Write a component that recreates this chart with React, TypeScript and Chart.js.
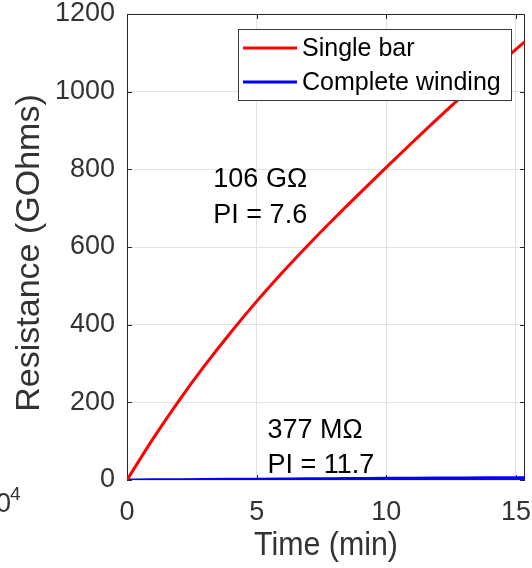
import { useEffect, useRef } from 'react';
import { Chart, registerables } from 'chart.js';

Chart.register(...registerables);

// ---- data ----
const timeMin = [0, 1, 2, 3, 4, 5, 6, 7, 8, 9, 10, 11, 12, 13, 14, 15, 15.35];
const singleBar = [0, 106, 204, 295, 380, 460, 535, 606, 674, 740, 805, 869, 932, 993, 1052, 1109, 1129];
const completeWinding = [0, 0.377, 0.9, 1.35, 1.8, 2.25, 2.7, 3.1, 3.5, 3.95, 4.4, 4.7, 5.0, 5.3, 5.6, 5.9, 6.0];
const xTicks = [0, 5, 10, 15];
const yTicks = [0, 200, 400, 600, 800, 1000, 1200];
const seriesNames = ['Single bar', 'Complete winding'];
const seriesColors = ['#ff0000', '#0000ff'];
const annotationTexts = ['106 GΩ', 'PI = 7.6', '377 MΩ', 'PI = 11.7'];
const annotationX = [3.33, 3.33, 5.42, 5.42];
const annotationY = [755, 662, 107, 17];
const xMax = 15.35;
const yMax = 1200;

const FONT = '"Liberation Sans", Arial, Helvetica, sans-serif';
const AXIS = '#262626';
const TEXT = '#333333';

const overlay = {
  id: 'overlay',
  beforeDatasetsDraw(chart: any) {
    const { ctx, chartArea, scales } = chart;
    const { left, right, top, bottom } = chartArea;
    ctx.save();
    ctx.strokeStyle = AXIS;
    ctx.lineWidth = 1;
    ctx.strokeRect(left + 0.5, top + 0.5, right - left - 1, bottom - top - 1);
    ctx.beginPath();
    xTicks.forEach((v) => {
      const px = Math.round(scales.x.getPixelForValue(v)) + 0.5;
      ctx.moveTo(px, bottom);
      ctx.lineTo(px, bottom - 5);
      ctx.moveTo(px, top);
      ctx.lineTo(px, top + 5);
    });
    yTicks.forEach((v) => {
      const py = Math.round(scales.y.getPixelForValue(v)) + 0.5;
      ctx.moveTo(left, py);
      ctx.lineTo(left + 5, py);
      ctx.moveTo(right, py);
      ctx.lineTo(right - 5, py);
    });
    ctx.stroke();
    ctx.restore();
  },
  afterDatasetsDraw(chart: any) {
    const { ctx, chartArea, scales } = chart;
    const { left, right } = chartArea;
    const top = chartArea.top;
    ctx.save();
    // legend
    const bx0 = right - 287;
    const bx1 = right - 13;
    const by0 = top + 15;
    const by1 = top + 87;
    ctx.fillStyle = '#ffffff';
    ctx.fillRect(bx0, by0, bx1 - bx0, by1 - by0);
    ctx.strokeStyle = '#3a3a3a';
    ctx.lineWidth = 1;
    ctx.strokeRect(bx0 + 0.5, by0 + 0.5, bx1 - bx0 - 1, by1 - by0 - 1);
    seriesNames.forEach((name, i) => {
      const yy = by0 + 19 + i * 34;
      ctx.strokeStyle = seriesColors[i];
      ctx.lineWidth = 3;
      ctx.beginPath();
      ctx.moveTo(bx0 + 5, yy);
      ctx.lineTo(bx0 + 59, yy);
      ctx.stroke();
      ctx.fillStyle = '#000';
      ctx.font = `25px ${FONT}`;
      ctx.textAlign = 'left';
      ctx.textBaseline = 'middle';
      ctx.fillText(name, bx0 + 64, yy + 1);
    });
    // annotations
    ctx.fillStyle = '#000';
    ctx.font = `27px ${FONT}`;
    ctx.textAlign = 'left';
    ctx.textBaseline = 'alphabetic';
    annotationTexts.forEach((t, i) => {
      ctx.fillText(t, scales.x.getPixelForValue(annotationX[i]), scales.y.getPixelForValue(annotationY[i]));
    });
    // axis titles
    ctx.fillStyle = TEXT;
    ctx.save();
    ctx.translate((left + right) / 2, 555);
    ctx.scale(0.92, 1);
    ctx.font = `33px ${FONT}`;
    ctx.textAlign = 'center';
    ctx.fillText('Time (min)', 0, 0);
    ctx.restore();
    ctx.save();
    ctx.translate(39, 253);
    ctx.rotate(-Math.PI / 2);
    ctx.font = `34px ${FONT}`;
    ctx.textAlign = 'center';
    ctx.fillText('Resistance (GOhms)', 0, 0);
    ctx.restore();
    // cut-off exponent from neighbouring panel
    ctx.font = `27px ${FONT}`;
    ctx.textAlign = 'right';
    ctx.fillText('10', 11, 512);
    ctx.font = `19px ${FONT}`;
    ctx.textAlign = 'left';
    ctx.fillText('4', 10, 500);
    ctx.restore();
  },
};

export default function App() {
  const ref = useRef<HTMLCanvasElement>(null);
  useEffect(() => {
    document.body.style.margin = '0';
    const canvas = ref.current;
    if (!canvas) return;
    const chart = new Chart(canvas, {
      type: 'line',
      data: {
        datasets: [
          {
            label: seriesNames[0],
            data: timeMin.map((t, i) => ({ x: t, y: singleBar[i] })),
            borderColor: seriesColors[0],
            borderWidth: 3,
            pointRadius: 0,
            cubicInterpolationMode: 'monotone',
          },
          {
            label: seriesNames[1],
            data: timeMin.map((t, i) => ({ x: t, y: completeWinding[i] })),
            borderColor: seriesColors[1],
            borderWidth: 3,
            pointRadius: 0,
            cubicInterpolationMode: 'monotone',
          },
        ],
      },
      options: {
        animation: false,
        responsive: false,
        layout: { padding: { top: 14, right: 7, left: 0, bottom: 0 } },
        plugins: { legend: { display: false }, tooltip: { enabled: false } },
        scales: {
          x: {
            type: 'linear',
            min: 0,
            max: xMax,
            afterBuildTicks: (s: any) => {
              s.ticks = xTicks.map((v) => ({ value: v }));
            },
            afterFit: (s: any) => {
              s.height = 88;
              s.paddingLeft = 0;
              s.paddingRight = 0;
              s.paddingTop = 0;
              s.paddingBottom = 0;
            },
            ticks: {
              color: TEXT,
              font: { family: FONT, size: 27 },
              padding: 16,
              maxRotation: 0,
              autoSkip: false,
              callback: (v: any) => String(v),
            },
            grid: { color: '#e2e2e2', lineWidth: 1, drawTicks: false },
            border: { display: false },
          },
          y: {
            type: 'linear',
            min: 0,
            max: yMax,
            afterBuildTicks: (s: any) => {
              s.ticks = yTicks.map((v) => ({ value: v }));
            },
            afterFit: (s: any) => {
              s.width = 127;
              s.paddingLeft = 0;
              s.paddingRight = 0;
              s.paddingTop = 0;
              s.paddingBottom = 0;
            },
            ticks: {
              color: TEXT,
              font: { family: FONT, size: 27 },
              padding: 12,
              autoSkip: false,
              callback: (v: any) => String(v),
            },
            grid: { color: '#e2e2e2', lineWidth: 1, drawTicks: false },
            border: { display: false },
          },
        },
      },
      plugins: [overlay],
    });
    return () => chart.destroy();
  }, []);
  return (
    <div style={{ width: 532, height: 568 }}>
      <canvas ref={ref} width={532} height={568} />
    </div>
  );
}
